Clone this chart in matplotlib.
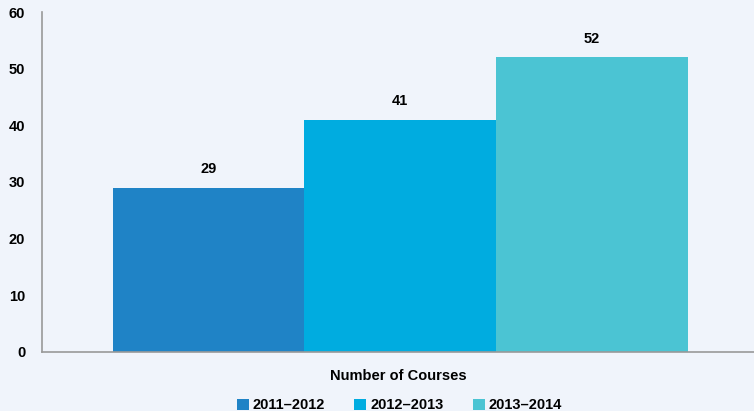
import matplotlib.pyplot as plt

periods = ['2011\u20132012', '2012\u20132013', '2013\u20132014']
courses = [29, 41, 52]
colors = ['#1f83c6', '#00ace0', '#4bc4d3']
offsets = [-0.2655, 0.003, 0.2725]

plt.rcParams['font.family'] = ['Liberation Sans Narrow', 'Liberation Sans', 'DejaVu Sans']
plt.rcParams['font.weight'] = 'bold'

bg = '#f0f4fb'
fig = plt.figure(figsize=(7.54, 4.11), dpi=100, facecolor=bg)
ax = fig.add_axes([0.0557, 0.1436, 0.9443, 0.8272], facecolor=bg)

for off, val, lab, c in zip(offsets, courses, periods, colors):
    ax.bar(off, val, width=0.2695, color=c, label=lab)
    ax.text(off, val + 2, str(val), ha='center', va='bottom', fontsize=10.5, fontweight='bold')

ax.set_xlim(-0.5, 0.5)
ax.set_ylim(0, 60)
ax.set_yticks(range(0, 61, 10))
ax.set_xticks([])
ax.tick_params(axis='y', length=0, pad=12, labelsize=10.5)
for lbl in ax.get_yticklabels():
    lbl.set_fontweight('bold')
ax.set_xlabel('Number of Courses', fontsize=10.5, fontweight='bold', labelpad=12)

for s in ['top', 'right']:
    ax.spines[s].set_visible(False)
for s in ['left', 'bottom']:
    ax.spines[s].set_color('#999999')
    ax.spines[s].set_linewidth(1.2)

fig.legend(loc='lower center', bbox_to_anchor=(0.53, -0.035), ncol=3, frameon=False,
           fontsize=10.5, handlelength=0.8, handleheight=0.8, handletextpad=0.3,
           columnspacing=2.0)

plt.savefig('out.png', dpi=100, facecolor=bg)
